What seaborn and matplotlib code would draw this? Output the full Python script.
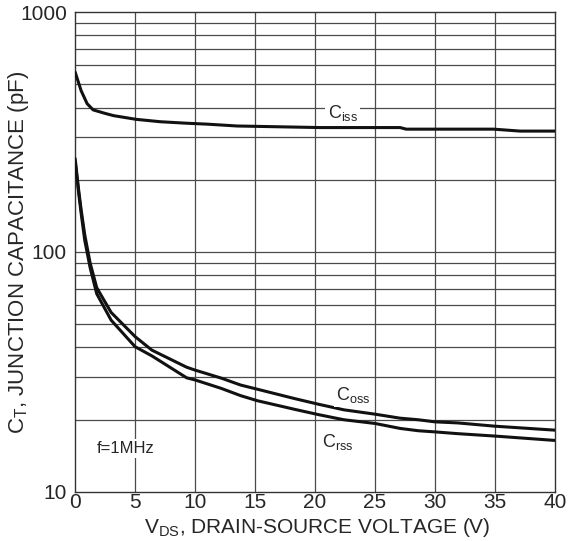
import numpy as np
import pandas as pd
import seaborn as sns
import matplotlib.pyplot as plt
import matplotlib.transforms as mtransforms

# values (V_DS in volts, capacitance in pF)
v_iss = [0, 0.5, 1.0, 1.5, 2.5, 3.2, 5.1, 7.1, 9.3, 11, 13.5, 20.4, 27.1, 27.6, 34.9, 37.1, 40]
c_iss = [562, 470, 415, 391, 378, 370, 357, 349, 344, 341, 335, 330, 330, 325, 325, 319, 319]

v_oss = [0, 0.3, 0.5, 0.8, 1.25, 1.8, 3.0, 5.0, 6.4, 9.3, 10, 12.2, 13.8, 15.2, 18.3, 20.3,
         22.4, 25, 27.1, 28.6, 30, 31.9, 35, 40]
c_oss = [245, 180, 150, 118, 90, 71, 56, 44.4, 39, 33.1, 32.2, 29.8, 27.9, 26.8, 24.5, 23.2,
         22.0, 21.1, 20.3, 20.0, 19.6, 19.4, 18.8, 18.1]

v_rss = [0, 0.3, 0.5, 0.8, 1.25, 1.8, 3.0, 5.0, 6.4, 9.3, 10, 12.2, 13.8, 15.2, 18.3, 20.3,
         22.4, 25, 27.1, 28.6, 30, 31.9, 35, 40]
c_rss = [238, 175, 145, 112, 86, 67, 52, 40.3, 36.9, 29.9, 29.3, 27.0, 25.2, 24.0, 22.1, 21.0,
         20.0, 19.3, 18.4, 18.0, 17.8, 17.5, 17.1, 16.4]

x_ticks = [0, 5, 10, 15, 20, 25, 30, 35, 40]
y_ticks = [10, 100, 1000]


def main():
    sns.set_style("white")
    plt.rcParams['font.family'] = ['Liberation Sans', 'DejaVu Sans']

    df = pd.concat([
        pd.DataFrame({'V': v_iss, 'C': c_iss, 'curve': 'iss'}),
        pd.DataFrame({'V': v_oss, 'C': c_oss, 'curve': 'oss'}),
        pd.DataFrame({'V': v_rss, 'C': c_rss, 'curve': 'rss'}),
    ])

    fig = plt.figure(figsize=(5.78, 5.41), dpi=100)
    ax = fig.add_axes([0.13, 0.0906, 0.83, 0.8872])

    ax.set_yscale('log')
    ax.set_xlim(0, 40)
    ax.set_ylim(10, 1000)

    # grid: every 5 V and every 1-2-3..9 step on the log axis
    for x in x_ticks[1:-1]:
        ax.axvline(x, color='#4a4a4a', lw=0.9, zorder=1)
    for dec in [10, 100]:
        for m in range(2, 10):
            ax.axhline(dec * m, color='#4a4a4a', lw=0.9, zorder=1)
    ax.axhline(100, color='#4a4a4a', lw=0.9, zorder=1)

    sns.lineplot(data=df, x='V', y='C', units='curve', estimator=None, sort=False,
                 color='#111111', lw=2.2, ax=ax, zorder=3, legend=False)

    box = dict(facecolor='white', edgecolor='none', pad=1.5)
    ax.text(22.3, 380, r'C$_{\mathregular{iss}}$', fontsize=13, ha='center', va='center',
            bbox=box, zorder=4)
    ax.text(23.2, 25.4, r'C$_{\mathregular{oss}}$', fontsize=13, ha='center', va='center',
            bbox=box, zorder=4)
    ax.text(21.9, 16.2, r'C$_{\mathregular{rss}}$', fontsize=13, ha='center', va='center',
            bbox=box, zorder=4)
    ax.text(1.8, 15.2, 'f=1MHz', fontsize=12, ha='left', va='center', bbox=box, zorder=4)

    ax.set_xticks(x_ticks)
    ax.set_xticklabels([str(x) for x in x_ticks])
    ax.set_yticks(y_ticks)
    ax.set_yticklabels([str(y) for y in y_ticks])
    ax.minorticks_off()
    ax.tick_params(length=0, labelsize=15)
    ax.tick_params(axis='x', pad=1)
    ax.tick_params(axis='y', pad=6)

    ax.set_xlabel(r'V$_{\mathregular{DS}}$, DRAIN-SOURCE VOLTAGE (V)', fontsize=15, va='bottom')
    ax.set_ylabel(r'C$_{\mathregular{T}}$, JUNCTION CAPACITANCE (pF)', fontsize=16)
    xl_trans = mtransforms.blended_transform_factory(ax.transAxes, fig.transFigure)
    ax.xaxis.set_label_coords(0.504, 2 / 541, transform=xl_trans)
    ax.yaxis.set_label_coords(-0.093, 0.5)

    for s in ax.spines.values():
        s.set_color('#333333')
        s.set_linewidth(1.0)

    fig.savefig('out.png', dpi=100)


if __name__ == "__main__":
    main()
